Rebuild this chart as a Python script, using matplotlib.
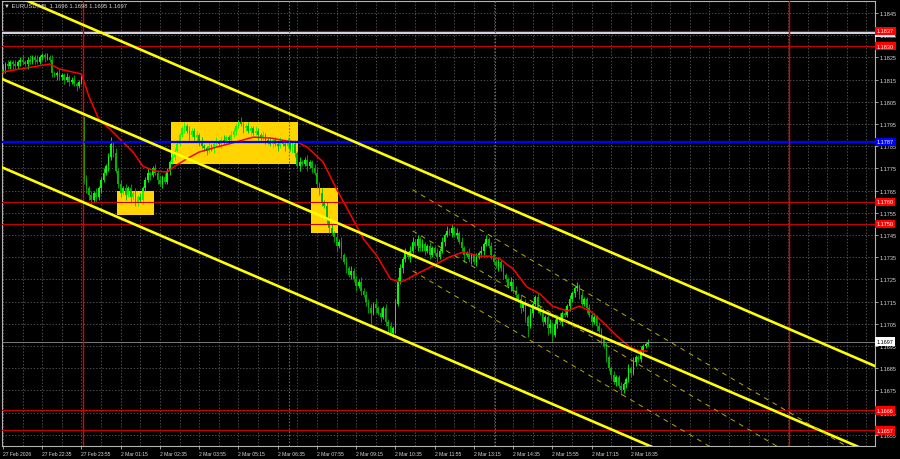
import matplotlib.pyplot as plt
import numpy as np

plt.rcParams['font.family'] = ['Liberation Sans', 'DejaVu Sans']

# EURUSD M5 closes, pips above 1.1700
closes = [
    120, 122, 121, 123, 122, 121, 123, 124, 123, 122, 124, 123, 125, 124, 123, 125,
    126, 125, 125, 124, 118, 117, 118, 116, 117, 115, 116, 114, 115, 113, 112, 114,
    116, 70, 66, 63, 61, 64, 62, 66, 70, 73, 76, 80, 86, 82, 74, 68,
    64, 66, 63, 66, 62, 64, 60, 62, 61, 66, 70, 73, 72, 75, 73, 70,
    68, 71, 69, 74, 78, 80, 83, 86, 90, 93, 94, 92, 90, 92, 89, 90,
    87, 85, 84, 83, 85, 84, 86, 87, 86, 88, 87, 89, 88, 90, 92, 94,
    96, 95, 93, 94, 92, 93, 91, 92, 90, 89, 90, 88, 87, 86, 88, 86,
    85, 87, 86, 85, 87, 84, 86, 82, 76, 78, 77, 79, 76, 78, 75, 73,
    68, 64, 60, 58, 52, 48, 46, 44, 40, 42, 36, 33, 30, 27, 29, 25,
    22, 24, 20, 18, 15, 12, 10, 14, 12, 10, 8, 12, 6, 4, 1, 3,
    14, 24, 30, 34, 37, 35, 38, 42, 40, 43, 39, 41, 38, 40, 36, 39,
    37, 35, 38, 42, 45, 47, 46, 48, 45, 46, 42, 39, 36, 37, 34, 36,
    33, 35, 37, 38, 41, 43, 40, 36, 33, 31, 33, 30, 27, 25, 22, 24,
    20, 18, 16, 12, 14, 8, 4, 10, 14, 17, 12, 10, 6, 8, 3, 5,
    0, 5, 8, 6, 10, 9, 13, 16, 19, 21, 22, 18, 14, 16, 12, 9,
    6, 8, 4, 2, -2, -5, -10, -15, -18, -21, -19, -23, -25, -22, -20, -15,
    -17, -12, -10, -11, -7, -5, -4, -3,
]
wick_up = [
    2, 1, 2, 1, 1, 2, 1, 1, 2, 1, 1, 2, 1, 1, 2, 1,
    1, 1, 2, 1, 2, 1, 1, 2, 1, 1, 2, 1, 1, 2, 1, 1,
    1, 0, 2, 1, 2, 1, 2, 1, 1, 2, 1, 2, 3, 1, 2, 1,
    2, 1, 2, 1, 2, 1, 2, 1, 2, 1, 1, 2, 1, 1, 2, 1,
    2, 1, 2, 1, 1, 2, 1, 2, 1, 1, 2, 1, 2, 1, 1, 2,
    1, 2, 1, 1, 2, 1, 1, 2, 1, 1, 2, 1, 1, 2, 1, 1,
    1, 2, 1, 1, 2, 1, 1, 2, 1, 1, 2, 1, 1, 2, 1, 1,
    1, 2, 1, 1, 2, 1, 1, 2, 1, 2, 1, 1, 2, 1, 1, 2,
    2, 1, 2, 1, 2, 1, 2, 1, 2, 1, 2, 1, 2, 1, 2, 1,
    2, 1, 2, 1, 2, 1, 2, 1, 2, 1, 2, 1, 2, 1, 2, 1,
    2, 2, 2, 1, 2, 1, 2, 2, 1, 2, 1, 2, 1, 1, 2, 1,
    1, 2, 1, 2, 1, 2, 1, 2, 1, 2, 1, 2, 1, 1, 2, 1,
    1, 2, 1, 2, 1, 2, 1, 2, 1, 1, 2, 1, 2, 1, 1, 2,
    1, 2, 1, 2, 1, 2, 1, 2, 1, 1, 2, 1, 2, 1, 1, 2,
    1, 2, 1, 2, 1, 2, 1, 2, 1, 1, 2, 1, 2, 1, 1, 2,
    1, 2, 1, 2, 1, 1, 2, 1, 1, 2, 1, 1, 2, 1, 1, 2,
    1, 2, 1, 1, 2, 1, 1, 1,
]
wick_dn = [
    1, 2, 1, 1, 2, 1, 1, 2, 1, 1, 2, 1, 1, 2, 1, 1,
    1, 2, 1, 1, 2, 1, 2, 1, 1, 2, 1, 2, 1, 1, 2, 1,
    1, 2, 2, 2, 2, 1, 2, 1, 2, 1, 1, 2, 1, 2, 1, 2,
    2, 1, 2, 1, 2, 1, 2, 2, 1, 2, 1, 1, 2, 1, 1, 2,
    1, 2, 1, 1, 2, 1, 1, 2, 1, 1, 2, 1, 2, 1, 1, 2,
    2, 1, 1, 2, 1, 1, 2, 1, 1, 2, 1, 1, 2, 1, 1, 2,
    1, 1, 2, 1, 1, 2, 1, 1, 2, 1, 1, 2, 1, 1, 2, 1,
    2, 1, 1, 2, 1, 1, 2, 2, 1, 2, 1, 1, 2, 1, 2, 1,
    2, 1, 2, 1, 2, 2, 1, 2, 2, 1, 2, 1, 2, 1, 2, 1,
    2, 1, 2, 1, 2, 2, 6, 1, 2, 1, 2, 1, 2, 3, 1, 2,
    2, 1, 1, 2, 1, 1, 2, 1, 1, 2, 1, 1, 2, 1, 2, 1,
    1, 2, 1, 1, 2, 1, 1, 2, 1, 2, 1, 1, 3, 1, 1, 2,
    1, 2, 1, 1, 2, 1, 1, 2, 1, 1, 2, 1, 2, 1, 1, 2,
    1, 2, 1, 2, 1, 2, 5, 1, 2, 1, 2, 1, 2, 1, 3, 2,
    3, 1, 2, 1, 2, 1, 1, 2, 1, 2, 1, 2, 1, 1, 2, 1,
    2, 1, 2, 1, 2, 1, 2, 1, 2, 1, 2, 1, 2, 1, 2, 1,
    2, 1, 2, 1, 1, 2, 1, 1,
]
first_open = 119
monday_bar = 33
monday_open = 98

# moving average, read at these bars (price)
ma_bar = [0, 7, 19, 23, 32, 35, 39, 43.6, 47.7, 53, 57, 62, 67, 70, 76, 80,
          87, 95, 102, 109, 116, 120, 124, 130.5, 136, 141.5, 147, 152.5, 158, 162,
          165, 167, 175, 182, 187.5, 194.5, 198.5, 202.6, 208, 213.6, 219, 224,
          230, 235, 239.3, 244.6, 250.3, 255.6, 259, 262.5]
ma_val = [1.18184, 1.18198, 1.18220, 1.18198, 1.18175, 1.18076, 1.17973, 1.17927,
          1.17882, 1.17824, 1.17760, 1.17738, 1.17734, 1.17760, 1.17800, 1.17824,
          1.17846, 1.17869, 1.17891, 1.17887, 1.17873, 1.17869, 1.17846, 1.17779,
          1.17657, 1.17545, 1.17432, 1.17355, 1.17252, 1.17238, 1.17252, 1.17265,
          1.17310, 1.17351, 1.17373, 1.17355, 1.17355, 1.17342, 1.17297, 1.17216,
          1.17184, 1.17130, 1.17108, 1.17130, 1.17108, 1.17058, 1.16995, 1.16945,
          1.16930, 1.16927]

time_ticks = list(range(0, 257, 16))
time_labels = ['27 Feb 2026', '27 Feb 22:35', '27 Feb 23:55', '2 Mar 01:15',
               '2 Mar 02:35', '2 Mar 03:55', '2 Mar 05:15', '2 Mar 06:35',
               '2 Mar 07:55', '2 Mar 09:15', '2 Mar 10:35', '2 Mar 11:55',
               '2 Mar 13:15', '2 Mar 14:35', '2 Mar 15:55', '2 Mar 17:15',
               '2 Mar 18:35']

red_levels = [1.1837, 1.1830, 1.1760, 1.1750, 1.1666, 1.1657]
blue_level = 1.1787
silver_level = 1.1836
last_price = 1.1697

# trading zones: start bar, end bar, low, high
box_start = [46.5, 68.5, 125.6]
box_end = [61.6, 120.3, 136.6]
box_low = [1.1754, 1.1777, 1.1746]
box_high = [1.1765, 1.1796, 1.1766]

# descending channel (solid) and regression channel (dashed)
chan_x = [-0.4, 355.5]
chan_top = [1.18554, 1.16860]
chan_mid = [1.18153, 1.16464]
chan_bot = [1.17755, 1.16064]
reg_x = [167, 355.5]
reg_a = [1.17654, 1.16423]
reg_b = [1.17469, 1.16238]
reg_c = [1.17289, 1.16058]

day_lines = [32.6, 320.5]
session_lines = [116.6, 200.6]

fs = 4.0

fig = plt.figure(figsize=(9, 4.6), dpi=100, facecolor='black')
ax = fig.add_axes([2 / 900, 13 / 460, 873 / 900, 445 / 460], facecolor='black')
ax.set_xlim(-0.4, 355.5)
ax.set_ylim(1.1650, 1.18504)

# grid
ax.set_xticks(time_ticks)
ax.set_xticks(range(0, 356, 8), minor=True)
ax.set_xticklabels(time_labels, ha='left', fontsize=3.6)
yt = np.round(np.arange(1.1655, 1.1846, 0.001), 4)
ax.set_yticks(yt)
ax.set_yticklabels([f'{v:.4f}' for v in yt], fontsize=fs)
ax.yaxis.tick_right()
ax.grid(True, which='both', axis='x', color='#6a6a6a', ls=(0, (2, 2.5)), lw=0.5, zorder=0)
ax.grid(True, which='major', axis='y', color='#6a6a6a', ls=(0, (2, 2.5)), lw=0.5, zorder=0)
ax.set_axisbelow(True)
ax.tick_params(axis='both', which='both', colors='#d8d8d8', length=2, width=0.5)
ax.tick_params(axis='x', which='minor', length=0)
ax.tick_params(axis='x', pad=1.5)
ax.tick_params(axis='y', pad=1.5)
for s in ax.spines.values():
    s.set_color('#b4b4b4')
    s.set_linewidth(0.8)

# zones
for b0, b1, lo, hi in zip(box_start, box_end, box_low, box_high):
    ax.add_patch(plt.Rectangle((b0, lo), b1 - b0, hi - lo, facecolor='#ffd400',
                               edgecolor='none', zorder=1))

# candles
c = np.array(closes, dtype=float)
o = np.r_[first_open, c[:-1]]
o[monday_bar] = monday_open
hi = np.maximum(o, c) + np.array(wick_up)
lo = np.minimum(o, c) - np.array(wick_dn)
idx = np.arange(len(c))
to_price = lambda p: 1.17 + p * 0.0001
up = c >= o
cols = np.where(up, '#00ff00', '#00b400')
ax.vlines(idx, to_price(lo), to_price(hi), colors=cols, lw=0.6, zorder=3)
body = np.maximum(np.abs(c - o), 0.3) * 0.0001
ax.bar(idx, body, bottom=to_price(np.minimum(o, c)), width=0.7, color=cols,
       linewidth=0, zorder=3)

ax.plot(ma_bar, ma_val, color='#ff0000', lw=1.1, zorder=4)

# levels
for lv in red_levels:
    ax.axhline(lv, color='#c80000', lw=0.8, zorder=5)
ax.axhline(silver_level, color='#d8d8e8', lw=1.4, zorder=5)
ax.axhline(blue_level, color='#0000ff', lw=1.6, zorder=5)
ax.axhline(last_price, color='#8c8c8c', lw=0.6, zorder=5)
for b in day_lines:
    ax.axvline(b, color='#e00000', lw=1.0, zorder=5)
for b in session_lines:
    ax.axvline(b, color='#2f8f2f', lw=0.8, ls=(0, (1.5, 1.5)), zorder=5)

for line in (chan_top, chan_mid, chan_bot):
    ax.plot(chan_x, line, color='#ffff00', lw=1.9, zorder=6)
for line in (reg_a, reg_b, reg_c):
    ax.plot(reg_x, line, color='#b4ac00', lw=0.7, ls=(0, (5, 5)), zorder=6)


def tag(price, text, fc, tc, z=10):
    ax.text(1.002, price, text, transform=ax.get_yaxis_transform(), ha='left',
            va='center', fontsize=fs, color=tc, clip_on=False, zorder=z,
            bbox=dict(boxstyle='square,pad=0.3', fc=fc, ec='none'))


tag(silver_level, '1.1836', '#e6e6fa', 'black', 9)
for lv in red_levels:
    tag(lv, f'{lv:.4f}', '#ff0000', 'white')
tag(blue_level, f'{blue_level:.4f}', '#0000ff', 'white')
tag(last_price, f'{last_price:.4f}', 'white', 'black')

fig.text(4 / 900, 1 - 6 / 460, '\u25bc EURUSD,M5  1.1696 1.1698 1.1695 1.1697',
         color='#d8d8d8', fontsize=4.2, va='center', ha='left')

fig.savefig('out.png', dpi=100, facecolor='black')
